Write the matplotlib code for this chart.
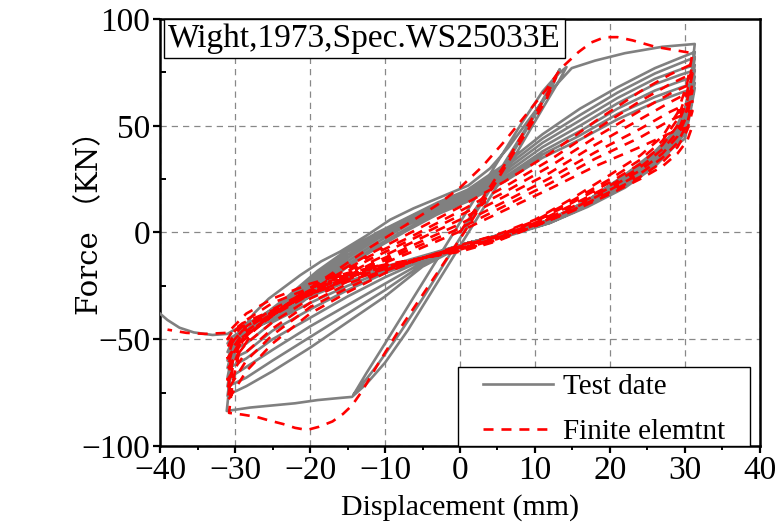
import numpy as np
import matplotlib.pyplot as plt
from matplotlib.ticker import MultipleLocator
from matplotlib.patches import Rectangle

plt.rcParams['font.family'] = ['Liberation Serif', 'DejaVu Serif']

# ---------------- Test data (gray) ----------------
# initial small cycles + negative plateau
t_init_x = [0, 3, 6, 9, 11.5, 13.3, 12.5, 10, 7, 4, 1, -2, -5, -8, -11, -13, -14.2,
            -12.5, -10, -7, -4, -1, 2, 5, 8, 11, 13, 14.2,
            13.2, 11, 8, 5, 2, -1, -4, -7, -10, -12.5, -14.4,
            -16, -19, -22, -25, -28, -31.1]
t_init_y = [0, 16, 33, 50, 65, 76.5, 70, 55, 37, 20, 3, -14, -31, -47, -62, -71, -76,
            -66, -52, -35, -18, -1, 16, 33, 50, 66, 74, 77.5,
            71, 58, 40, 22, 5, -12, -29, -46, -61, -71, -77,
            -77.5, -78.5, -80, -81, -82, -83.6]
# first reload to the positive side
t_up1_x = [-31.1, -30.7, -30.2, -29.3, -27.5, -25.5, -23.6, -21.3, -18.5, -16, -12.5,
           -9.3, -6.2, -3, 1.1, 4, 6.5, 9, 12, 14.9, 18, 22, 27, 31.3]
t_up1_y = [-83.6, -70, -56, -47, -38, -31, -26, -20, -13.5, -9, -1.5,
           6, 11.3, 16, 22, 30, 40, 52, 66, 77, 80.5, 84, 87, 88.3]
# later reloading branches (cycles 2-8)
t_up_x = [-31, -30.4, -29.5, -27, -23, -19, -15, -11, -7, -3, 1, 6, 11, 16, 21, 26, 29.5, 31.3]
t_up_y = [
    [-76.5, -62, -49, -41, -30, -18, -8, 0, 7, 14, 20, 32, 46, 58, 68, 77, 82, 84.5],
    [-72, -60, -50, -42, -31.5, -19.5, -9, -1, 6.5, 13.5, 19.5, 30.5, 44, 55, 65.5, 74.5, 79.5, 82],
    [-68, -57, -50, -43, -33, -21, -10.5, -2, 5.5, 12.5, 18.5, 29, 42, 52.5, 63, 72, 76.5, 78.4],
    [-63.5, -55, -49.5, -43.5, -34.5, -22.5, -12, -3, 4.5, 11.5, 17.5, 27.5, 40, 50, 60.5, 69.5, 74, 76],
    [-60, -53, -49, -44, -36, -24, -13.5, -4.5, 3.5, 10.5, 16.5, 26, 38, 47.5, 58, 66.5, 71, 73],
    [-56, -51, -48, -44, -37, -25.5, -15, -6, 2, 9.5, 15.5, 25, 36.5, 45.5, 55.5, 63.5, 68, 70],
    [-52, -49, -47, -44, -38, -27, -16, -7, 1, 8.5, 14.5, 24, 35, 43.5, 53, 61, 65.5, 67.6],
]
# unloading branches (cycles 1-8)
t_dn_x = [31.3, 30.8, 30, 28.5, 26, 22, 17, 12, 7, 1, -5, -10, -15, -20, -25, -28.5, -30.3, -31]
t_dn_y = [
    [88.3, 72, 58, 47, 38, 27, 15, 6, 0.5, -5, -16, -30, -42, -54, -65, -72, -75, -76.5],
    [84.5, 70, 56, 46, 37, 26.5, 15, 6, 0.5, -5, -15, -27, -38, -49, -60, -68, -71, -72],
    [82, 68, 54, 45, 36, 26, 14.5, 5.5, 0, -5, -14, -24, -34, -44, -55, -63, -67, -68],
    [78.4, 66, 52, 44, 35, 25, 14, 5.5, 0, -5, -13, -21, -30, -40, -50, -59, -62.5, -63.5],
    [76, 64, 50, 43, 34, 24, 13.5, 5, 0, -5, -12.5, -19, -27, -36, -46, -56, -59, -60],
    [73, 62, 48, 42, 33, 23, 13, 5, -0.5, -5, -12, -18, -25, -33, -42, -52, -55, -56],
    [70, 60, 46, 41, 32, 22, 12.5, 4.5, -0.5, -5, -11.5, -17, -23, -30, -39, -48, -51, -52],
    [67.6, 58, 44, 40, 31, 21, 12, 4.5, -1, -5, -11, -16, -21, -28, -36, -43, -46, -47.5],
]
t_tail_x = [-33, -35.5, -37.4, -39, -40]
t_tail_y = [-48, -46.8, -44.6, -41, -38]

# ---------------- Finite element data (red) ----------------
f_init_x = [0, 3, 6, 9, 11.5, 12.8, 11.5, 8, 4, 0, -4, -8, -11, -13, -14.4,
            -15.6, -17, -18.8, -20.4, -22, -23.6, -25.5, -27.1, -29, -30.8]
f_init_y = [0, 16, 32, 50, 64, 73, 62, 42, 19, -3, -24, -45, -62, -74, -81,
            -85, -88.5, -91, -92.5, -91.5, -89.7, -88, -86.4, -85.3, -84.5]
f_up1_x = [-30.8, -30.3, -29.5, -27.5, -24, -21.3, -17, -12, -7, -3, 0, 3, 6, 9, 11.5,
           13.5, 15.8, 17.5, 19.3, 21, 23, 26, 28.5, 31]
f_up1_y = [-84.5, -70, -57, -46, -36, -29, -19, -7, 4, 13, 21, 31, 43, 56, 67,
           77, 84.5, 89, 91.5, 91.5, 90, 87, 85.5, 84]
f_up_x = [-31, -30.3, -29, -26, -22, -17, -12, -6, 0, 6, 12, 18, 24, 28, 31]
f_up_y = [
    [-79, -63, -51, -41, -31, -20, -10, 1, 12, 24, 37, 52, 66, 74, 79],
    [-74, -60, -50, -41, -32, -21, -11, -1, 10, 21.5, 34, 48, 61.5, 69.5, 74.5],
    [-69, -57, -49, -41, -32, -22, -12.5, -2.5, 8, 19, 31, 44.5, 57, 65, 70],
    [-64, -54, -47.5, -40, -32, -23, -14, -4, 6, 17, 28, 41, 53, 61, 66.5],
    [-59, -51, -46, -39.5, -32, -24, -15, -5.5, 4, 14.5, 25.5, 37.5, 48.5, 56.5, 61.5],
    [-54, -48.5, -44, -39, -32, -24.5, -16, -7, 2, 12.5, 23, 34.5, 44.5, 52.5, 57],
    [-50, -46, -42.5, -38, -32, -25, -17, -8.5, 0.5, 10.5, 20.5, 31, 40, 46.5, 50],
]
f_dn_x = [31, 30.3, 29, 27, 24, 20, 15, 10, 5, 0, -5, -10, -15, -20, -25, -28.5, -30.3, -31]
f_dn_y = [
    [84, 70, 56, 45, 36, 27, 16, 6, -1, -6, -12, -19, -28, -38, -52, -65, -75, -79],
    [79, 66, 53, 43, 34, 25, 15, 5.5, -1.5, -6.5, -12, -18, -26, -35, -48, -60, -70, -74],
    [74.5, 62, 50, 41, 32, 23.5, 14, 5, -2, -7, -12, -17.5, -24, -33, -45, -56, -65, -69],
    [70, 58, 47, 39, 30.5, 22, 13, 4.5, -2.5, -7.5, -12, -17, -23, -31, -42, -52, -60, -64],
    [66.5, 55, 45, 37, 29, 21, 12, 4, -3, -8, -12, -16.5, -22, -29, -39, -48, -55, -59],
    [61.5, 51, 42, 35, 27.5, 20, 11, 3.5, -3, -8, -12, -16, -21, -27, -36, -44, -51, -54],
    [57, 48, 40, 33, 26, 19, 10.5, 3, -3.5, -8.5, -12, -15.5, -20, -26, -33, -41, -47, -50],
    [50, 43, 37, 31, 25, 18, 10, 3, -4, -9, -12, -15, -19, -24, -31, -38, -44.5, -47],
]
f_tail_x = [-34, -36.5, -39]
f_tail_y = [-47.5, -47, -45.5]


def build_path(init_x, init_y, up1_x, up1_y, up_x, up_y, dn_x, dn_y, tail_x, tail_y):
    xs = list(init_x) + list(up1_x)
    ys = list(init_y) + list(up1_y)
    for k in range(len(dn_y)):
        xs += dn_x
        ys += dn_y[k]
        if k < len(up_y):
            xs += up_x
            ys += up_y[k]
    xs += tail_x
    ys += tail_y
    return np.array(xs), np.array(ys)


tx, ty = build_path(t_init_x, t_init_y, t_up1_x, t_up1_y, t_up_x, t_up_y,
                    t_dn_x, t_dn_y, t_tail_x, t_tail_y)
fx, fy = build_path(f_init_x, f_init_y, f_up1_x, f_up1_y, f_up_x, f_up_y,
                    f_dn_x, f_dn_y, f_tail_x, f_tail_y)

fig = plt.figure(figsize=(7.79, 5.25), dpi=100)
ax = fig.add_axes([0.2054, 0.1505, 0.7702, 0.8133])

ax.plot(tx, ty, color='#808080', lw=1.9, label='Test date', zorder=3)
ax.plot(fx, fy, color='red', lw=1.9, ls=(0, (3.8, 3.0)), label='Finite elemtnt', zorder=4)

ax.set_xlim(-40, 40)
ax.set_ylim(-100, 100)
ax.xaxis.set_major_locator(MultipleLocator(10))
ax.xaxis.set_minor_locator(MultipleLocator(5))
ax.yaxis.set_major_locator(MultipleLocator(50))
ax.yaxis.set_minor_locator(MultipleLocator(25))
ax.tick_params(axis='x', which='major', direction='out', length=5, width=1.6,
               labelsize=24, pad=2)
ax.tick_params(axis='x', which='minor', direction='out', length=3, width=1.4)
ax.tick_params(axis='y', which='major', direction='out', length=5, width=1.6,
               labelsize=24, pad=2)
ax.tick_params(axis='y', which='minor', direction='in', length=4, width=1.4)
for sp in ax.spines.values():
    sp.set_linewidth(1.8)

ax.grid(True, which='major', color='#888888', ls=(0, (5, 4)), lw=0.9)

ax.set_xlabel('Displacement (mm)', fontsize=21.5, labelpad=6)
ax.set_ylabel('Force （KN）', fontsize=21, family=['DejaVu Serif', 'Noto Sans CJK SC'])
ax.yaxis.set_label_coords(-0.093, 0.54)

ax.text(0.013, 0.99, 'Wight,1973,Spec.WS25033E', transform=ax.transAxes,
        fontsize=24, va='top', ha='left', zorder=6,
        bbox=dict(boxstyle='square,pad=0.12', fc='white', ec='black', lw=1.0))

# legend frame drawn by hand so its padding matches the reference
ax.add_patch(Rectangle((0.497, 0.0), 0.486, 0.185, transform=ax.transAxes,
                       fc='white', ec='black', lw=1.0, zorder=6))
leg = ax.legend(loc='center left', bbox_to_anchor=(0.538, 0.086), borderaxespad=0,
                fontsize=21, frameon=False, handlelength=2.4, labelspacing=0.62,
                borderpad=0, handletextpad=0.35)
leg.set_zorder(7)

fig.savefig('out.png', dpi=100)
